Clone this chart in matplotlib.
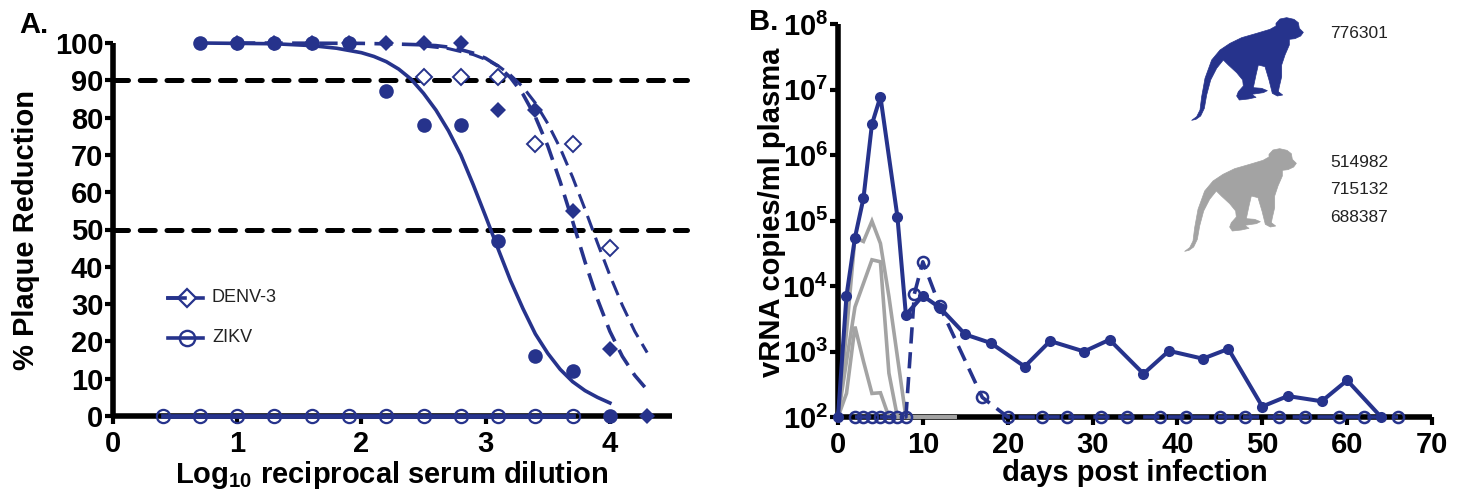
import numpy as np
import matplotlib
matplotlib.use("Agg")
import matplotlib.pyplot as plt
from matplotlib.patches import Polygon

plt.rcParams['font.family'] = ['Liberation Sans', 'DejaVu Sans']
plt.rcParams['mathtext.fontset'] = 'custom'
plt.rcParams['mathtext.rm'] = 'Liberation Sans'
plt.rcParams['mathtext.bf'] = 'Liberation Sans:bold'

BLUE = '#26338c'
GREY = '#a3a3a3'
W, H = 1460, 492
FS = 21

# panel A, values
zikv_x = [0.7, 1.0, 1.3, 1.6, 1.9, 2.2, 2.5, 2.8, 3.1, 3.4, 3.7, 4.0]
zikv_y = [100, 100, 100, 100, 100, 87, 78, 78, 47, 16, 12, 0]
zikv_open_x = [0.4, 0.7, 1.0, 1.3, 1.6, 1.9, 2.2, 2.5, 2.8, 3.1, 3.4, 3.7]
zikv_open_y = [0] * 12
denv_x = [1.0, 1.3, 1.6, 1.9, 2.2, 2.5, 2.8, 3.1, 3.4, 3.7, 4.0, 4.3]
denv_y = [100, 100, 100, 100, 100, 100, 100, 82, 82, 55, 18, 0]
denv_open_x = [2.5, 2.8, 3.1, 3.4, 3.7, 4.0]
denv_open_y = [91, 91, 91, 73, 73, 45]

fit_zikv_x = [0.7, 1.0, 1.3, 1.6, 1.8, 2.0, 2.1, 2.2, 2.3, 2.4, 2.5, 2.6, 2.7, 2.8, 2.9, 3.0,
              3.1, 3.2, 3.3, 3.4, 3.5, 3.6, 3.7, 3.8, 3.9, 4.0]
fit_zikv_y = [100, 99.9, 99.8, 99.3, 98.6, 97.4, 96.4, 95, 93, 90.3, 86.5, 82, 76.5, 70, 62, 53.5,
              44.8, 36.3, 28.8, 22, 16.8, 12.5, 9.2, 6.8, 5, 3.5]
fit_denv_x = [1.0, 2.0, 2.3, 2.5, 2.6, 2.7, 2.8, 2.9, 3.0, 3.1, 3.2, 3.3, 3.4, 3.5, 3.6, 3.7,
              3.8, 3.9, 4.0, 4.1, 4.2, 4.3]
fit_denv_y = [100, 99.9, 99.7, 99.5, 99.3, 98.9, 98.2, 97.3, 95.9, 93.8, 90.7, 86.3, 80.2, 72.4,
              62.8, 52.2, 41.3, 31.3, 22.7, 16, 10.9, 7]
fit_denv_open_x = [2.5, 2.7, 2.9, 3.0, 3.1, 3.2, 3.3, 3.4, 3.5, 3.6, 3.7, 3.8, 3.9, 4.0, 4.1, 4.2, 4.3]
fit_denv_open_y = [99.2, 98.5, 96.9, 95.6, 93.9, 91.4, 88.2, 83.9, 78.4, 71.8, 64, 55.4, 46.4, 37.7,
                   29.7, 22.7, 17]

# panel B, log10 of vRNA copies/ml
day_solid = [0, 1, 2, 3, 4, 5, 7, 8, 10, 12, 15, 18, 22, 25, 29, 32, 36, 39, 43, 46, 50, 53, 57, 60, 64]
log_solid = [2, 3.85, 4.74, 5.34, 6.47, 6.89, 5.06, 3.56, 3.85, 3.67, 3.26, 3.13, 2.77, 3.16, 3.0,
             3.18, 2.66, 3.01, 2.89, 3.04, 2.16, 2.32, 2.24, 2.56, 2]
day_open = [2, 3, 4, 5, 6, 7, 8, 9, 10, 12, 17, 20, 24, 27, 31, 34, 38, 41, 45, 48, 52, 55, 59, 62, 66]
log_open = [2, 2, 2, 2, 2, 2, 2, 3.88, 4.37, 3.69, 2.3, 2, 2, 2, 2, 2, 2, 2, 2, 2, 2, 2, 2, 2, 2]
day_grey = [0, 1, 2, 3, 4, 5, 6, 7, 8, 14]
log_grey_a = [2, 3.3, 4.74, 4.68, 4.99, 4.65, 3.84, 2.92, 2, 2]
log_grey_b = [2, 2.85, 3.68, 4.04, 4.4, 4.37, 2.67, 2, 2, 2]
log_grey_c = [2, 2.36, 3.38, 2.85, 2.36, 2.37, 2, 2, 2, 2]

# animal ids next to the silhouettes
ids_blue = ['776301']
ids_grey = ['514982', '715132', '688387']

monkey = np.array([(318, 70), (330, 57), (350, 53), (372, 58), (385, 68), (388, 85), (400, 97), (392, 108),
                   (375, 116), (358, 118), (358, 135), (345, 165), (335, 195), (335, 230), (328, 260),
                   (325, 275), (338, 285), (322, 288), (307, 280), (297, 240), (285, 200), (265, 195),
                   (258, 225), (250, 263), (275, 265), (292, 272), (280, 278), (245, 283), (258, 292),
                   (235, 297), (208, 300), (200, 288), (205, 275), (220, 258), (218, 240), (200, 218),
                   (175, 195), (160, 180), (140, 205), (122, 240), (110, 285), (103, 325), (92, 348),
                   (78, 358), (65, 361), (80, 350), (90, 330), (95, 290), (105, 235), (125, 180),
                   (150, 150), (180, 130), (215, 113), (260, 100), (300, 88), (318, 78)], dtype=float)
monkey = monkey / 3 + [1170, 0]


def ax_rect(left, right, top, bottom):
    return [left / W, 1 - bottom / H, (right - left) / W, (bottom - top) / H]


def style_axes(ax):
    for s in ['top', 'right']:
        ax.spines[s].set_visible(False)
    for s in ['left', 'bottom']:
        ax.spines[s].set_linewidth(4)
        ax.spines[s].set_capstyle('butt')
    ax.tick_params(width=3, length=6, labelsize=FS)
    ax.tick_params(axis='x', pad=4)
    ax.tick_params(axis='y', pad=1)
    for lab in ax.get_xticklabels() + ax.get_yticklabels():
        lab.set_fontweight('bold')


fig = plt.figure(figsize=(14.6, 4.92), dpi=100, facecolor='white')

# --- panel A
ax = fig.add_axes(ax_rect(113, 672, 43, 416))
ax.set_xlim(0, 4.5)
ax.set_ylim(0, 100)
ax.set_xticks(range(5))
ax.set_yticks(range(0, 101, 10))
style_axes(ax)

for level in [90, 50]:
    ax.plot([0, 4.62], [level, level], color='black', lw=3.6, dashes=(3.0, 2.35),
            dash_capstyle='round', clip_on=False, zorder=2)
ax.plot(fit_zikv_x, fit_zikv_y, color=BLUE, lw=2.6, clip_on=False, zorder=3)
ax.plot(fit_denv_x, fit_denv_y, color=BLUE, lw=2.6, dashes=(5, 2.6), clip_on=False, zorder=3)
ax.plot(fit_denv_open_x, fit_denv_open_y, color=BLUE, lw=2.2, dashes=(5, 2.6), clip_on=False, zorder=3)
ax.plot(zikv_open_x, zikv_open_y, color=BLUE, lw=3.4, marker='o', ms=9.5, mfc='none', mew=1.6,
        mec=BLUE, clip_on=False, zorder=4)
ax.plot(denv_x, denv_y, ls='none', marker='D', ms=8, color=BLUE, mew=0, clip_on=False, zorder=5)
ax.plot(denv_open_x, denv_open_y, ls='none', marker='D', ms=8, mfc='white', mec=BLUE, mew=1.4,
        clip_on=False, zorder=5)
ax.plot(zikv_x, zikv_y, ls='none', marker='o', ms=10.5, color=BLUE, mew=0, clip_on=False, zorder=5)

ax.set_xlabel(r'Log$_{\mathbf{10}}$ reciprocal serum dilution', fontsize=FS, fontweight='bold')
ax.xaxis.set_label_coords((392 - 113) / (672 - 113), -(459 - 416) / (416 - 43))
ax.set_ylabel('% Plaque Reduction', fontsize=FS, fontweight='bold')
ax.yaxis.set_label_coords(-73 / (672 - 113), (416 - 230) / (416 - 43))

# hand-placed legend, as in the figure
fig.add_artist(plt.Line2D([168 / W, 203 / W], [1 - 298 / H] * 2, color=BLUE, lw=2.6))
fig.add_artist(plt.Line2D([187 / W], [1 - 298 / H], marker='D', ms=9, mfc='white', mec=BLUE, mew=1.6))
fig.add_artist(plt.Line2D([168 / W, 185 / W], [1 - 298 / H] * 2, color=BLUE, lw=2.6))
fig.add_artist(plt.Line2D([168 / W, 203 / W], [1 - 338 / H] * 2, color=BLUE, lw=2.6))
fig.add_artist(plt.Line2D([187 / W], [1 - 338 / H], marker='o', ms=11, mfc='none', mec=BLUE, mew=1.7))
fig.text(212 / W, 1 - 298 / H, 'DENV-3', fontsize=13, va='center', color='#222222')
fig.text(212 / W, 1 - 337 / H, 'ZIKV', fontsize=13, va='center', color='#222222')

# --- panel B
bx = fig.add_axes(ax_rect(838, 1432, 24, 417))
bx.set_xlim(0, 70)
bx.set_yscale('log')
bx.set_ylim(1e2, 1e8)
bx.set_xticks(range(0, 71, 10))
bx.set_yticks([10.0 ** e for e in range(2, 9)])
bx.set_yticklabels([rf'$\mathbf{{10^{{{e}}}}}$' for e in range(2, 9)])
bx.minorticks_off()
style_axes(bx)

for vals in [log_grey_a, log_grey_b, log_grey_c]:
    bx.plot(day_grey, [10.0 ** v for v in vals], color=GREY, lw=2.6, clip_on=False, zorder=3,
            solid_capstyle='butt', solid_joinstyle='miter')
bx.plot(day_open, [10.0 ** v for v in log_open], color=BLUE, lw=2.6, dashes=(4.5, 2.4), marker='o',
        ms=8, mfc='none', mec=BLUE, mew=1.8, clip_on=False, zorder=4)
bx.plot(day_solid, [10.0 ** v for v in log_solid], color=BLUE, lw=2.9, marker='o', ms=8, mew=0,
        clip_on=False, zorder=5)

bx.set_xlabel('days post infection', fontsize=FS, fontweight='bold')
bx.xaxis.set_label_coords((1135 - 838) / (1432 - 838), -(459 - 417) / (417 - 24))
bx.set_ylabel('vRNA copies/ml plasma', fontsize=FS, fontweight='bold')
bx.yaxis.set_label_coords(-52 / (1432 - 838), (417 - 212) / (417 - 24))

# --- silhouettes
for dx, dy, col in [(0, 0, BLUE), (-7, 131, GREY)]:
    pts = monkey + [dx, dy]
    pts = np.column_stack([pts[:, 0] / W, 1 - pts[:, 1] / H])
    fig.add_artist(Polygon(pts, closed=True, facecolor=col, edgecolor=col, lw=0.5, joinstyle='round',
                           transform=fig.transFigure))

fig.text(1330 / W, 1 - 33 / H, ids_blue[0], fontsize=12.5, va='center', color='#222222')
for label, y in zip(ids_grey, [162, 190, 217]):
    fig.text(1330 / W, 1 - y / H, label, fontsize=12.5, va='center', color='#222222')

fig.text(19 / W, 1 - 25 / H, 'A.', fontsize=FS, fontweight='bold', va='center')
fig.text(749 / W, 1 - 22 / H, 'B.', fontsize=FS, fontweight='bold', va='center')

fig.savefig('out.png', dpi=100)
